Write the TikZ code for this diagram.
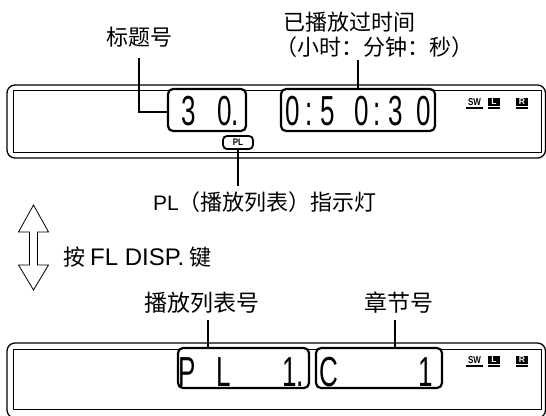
\documentclass[tikz,border=0pt]{standalone}
\usepackage{fontspec}
\usepackage{graphicx}
\setmainfont{Liberation Sans}
\newfontfamily\cjk{Noto Sans CJK SC}
\usetikzlibrary{positioning}
\newcommand\lcdfont{\fontsize{42}{42}\selectfont}
\newcommand\lcd[1]{\scalebox{0.62}[1]{\lcdfont #1}}
\newcommand\lcdcell[2]{\makebox[#1][l]{\lcd{#2}}}
\tikzset{
    panel/.style={draw, line width=1.3pt, rounded corners=8pt, inner sep=0pt},
    screen/.style={draw, line width=1pt, inner sep=0pt},
    segbox/.style={draw, line width=2.2pt, rounded corners=5pt, fill=white,
        inner sep=0pt, text depth=0pt},
    plbox/.style={draw, line width=1.8pt, rounded corners=4pt, fill=white,
        minimum width=30pt, minimum height=13pt, inner sep=0pt,
        font=\bfseries\fontsize{9.5}{9.5}\selectfont},
    indtext/.style={inner sep=0pt, minimum width=16pt, text depth=0pt,
        font=\bfseries\fontsize{10}{10}\selectfont},
    indbox/.style={fill=black, text=white, minimum width=12pt, minimum height=8pt,
        inner sep=0pt, font=\bfseries\fontsize{8.5}{8.5}\selectfont},
    indline/.style={line width=2pt},
    callout/.style={inner sep=0pt, font=\cjk\fontsize{22}{25}\selectfont},
    lead/.style={line width=2pt},
    hollowarrow/.style={draw, line width=0.8pt, line join=miter}
}
\begin{document}
\begin{tikzpicture}[x=1pt, y=-1pt]
    \useasboundingbox (0,0) rectangle (546,415);

    % upper display
    \node[panel, minimum width=538.5pt, minimum height=73pt] (toppanel) at (276.25,121.5) {};
    \node[screen, minimum width=528.5pt, minimum height=62pt] (topscreen) at (277.25,121) {};
    \node[segbox, minimum width=78pt, minimum height=42pt, text height=30pt] (titlebox)
        at (207,110) {\makebox[78pt][l]{\hspace*{13pt}\lcdcell{36pt}{3}\lcdcell{29pt}{0.}}};
    \node[segbox, minimum width=154pt, minimum height=42pt, text height=30pt] (timebox)
        at (358,110) {\makebox[154pt][l]{\hspace*{4pt}\lcdcell{20pt}{0}\lcdcell{15pt}{:}%
        \lcdcell{34pt}{5}\lcdcell{19pt}{0}\lcdcell{15pt}{:}\lcdcell{28pt}{3}\lcdcell{19pt}{0}}};
    \node[plbox] (plmark) at (238,142.5) {\scalebox{0.85}[1]{PL}};

    % lower display
    \node[panel, minimum width=538.5pt, minimum height=75pt] (botpanel) at (276.25,380.5) {};
    \node[screen, minimum width=528.5pt, minimum height=60pt] (botscreen) at (277.25,379) {};
    \node[segbox, minimum width=131pt, minimum height=40pt, text height=36pt] (listbox)
        at (243.5,368) {\makebox[131pt][l]{\lcdcell{38pt}{P}\lcdcell{66pt}{L}\lcdcell{27pt}{1.}}};
    \node[segbox, minimum width=126pt, minimum height=40pt, text height=36pt] (chapterbox)
        at (379,368) {\makebox[126pt][l]{\hspace*{3pt}\lcdcell{99pt}{C}\lcdcell{24pt}{1}}};

    % SW / L / R indicators
    \foreach \dy/\nm in {0/top, 258/bot} {
        \node[indtext, anchor=base] (sw\nm) at (474.5,105+\dy) {\scalebox{0.8}[1]{SW}};
        \node[indbox] (lamp\nm) at (494,101.5+\dy) {L};
        \node[indbox] (ramp\nm) at (522,101.5+\dy) {R};
        \draw[indline] ([yshift=-3pt]sw\nm.south west) -- ([yshift=-3pt]sw\nm.south east);
        \draw[indline] ([yshift=-2.5pt]lamp\nm.south west) -- ([yshift=-2.5pt]lamp\nm.south east);
        \draw[indline] ([yshift=-2.5pt]ramp\nm.south west) -- ([yshift=-2.5pt]ramp\nm.south east);
    }

    % labels
    \node[callout] (titlelabel) at (139,37) {标题号};
    \node[callout, align=left, anchor=south west] (timelabel) at (275,58)
        {\hspace*{8pt}已播放过时间\\（小时：分钟：秒）};
    \node[callout] (pllabel) at (265,202.5)
        {{\rmfamily\fontsize{21}{25}\selectfont PL}（播放列表）指示灯};
    \node[callout, anchor=west] (dispkey) at (63,257)
        {按 {\rmfamily\fontsize{24}{26}\selectfont FL DISP.} 键};
    \node[callout, font=\cjk\fontsize{23}{26}\selectfont] (listlabel) at (201.5,302.5) {播放列表号};
    \node[callout, font=\cjk\fontsize{23}{26}\selectfont] (chapterlabel) at (399,302.5) {章节号};

    % connectors
    \draw[lead, shorten <=11pt] (titlelabel.south) |- ([yshift=-2pt]titlebox.west);
    \draw[lead, shorten >=2pt] (timebox.north) -- (timebox.north |- timelabel.south);
    \draw[lead, shorten >=6pt] (plmark.south) -- (plmark.south |- pllabel.north);
    \draw[lead, shorten <=7pt] ([xshift=6pt]listlabel.south)
        -- ([xshift=6pt]listlabel.south |- listbox.north);
    \draw[lead, shorten <=7pt] ([xshift=-4pt]chapterlabel.south)
        -- ([xshift=-4pt]chapterlabel.south |- chapterbox.north);

    % FL DISP. toggle arrow
    \draw[hollowarrow] (33.5,205) -- (48.5,232) -- (37.5,232) -- (37.5,265) -- (48.5,265)
        -- (33.5,290) -- (18.5,265) -- (29.5,265) -- (29.5,232) -- (18.5,232) -- cycle;
\end{tikzpicture}
\end{document}
